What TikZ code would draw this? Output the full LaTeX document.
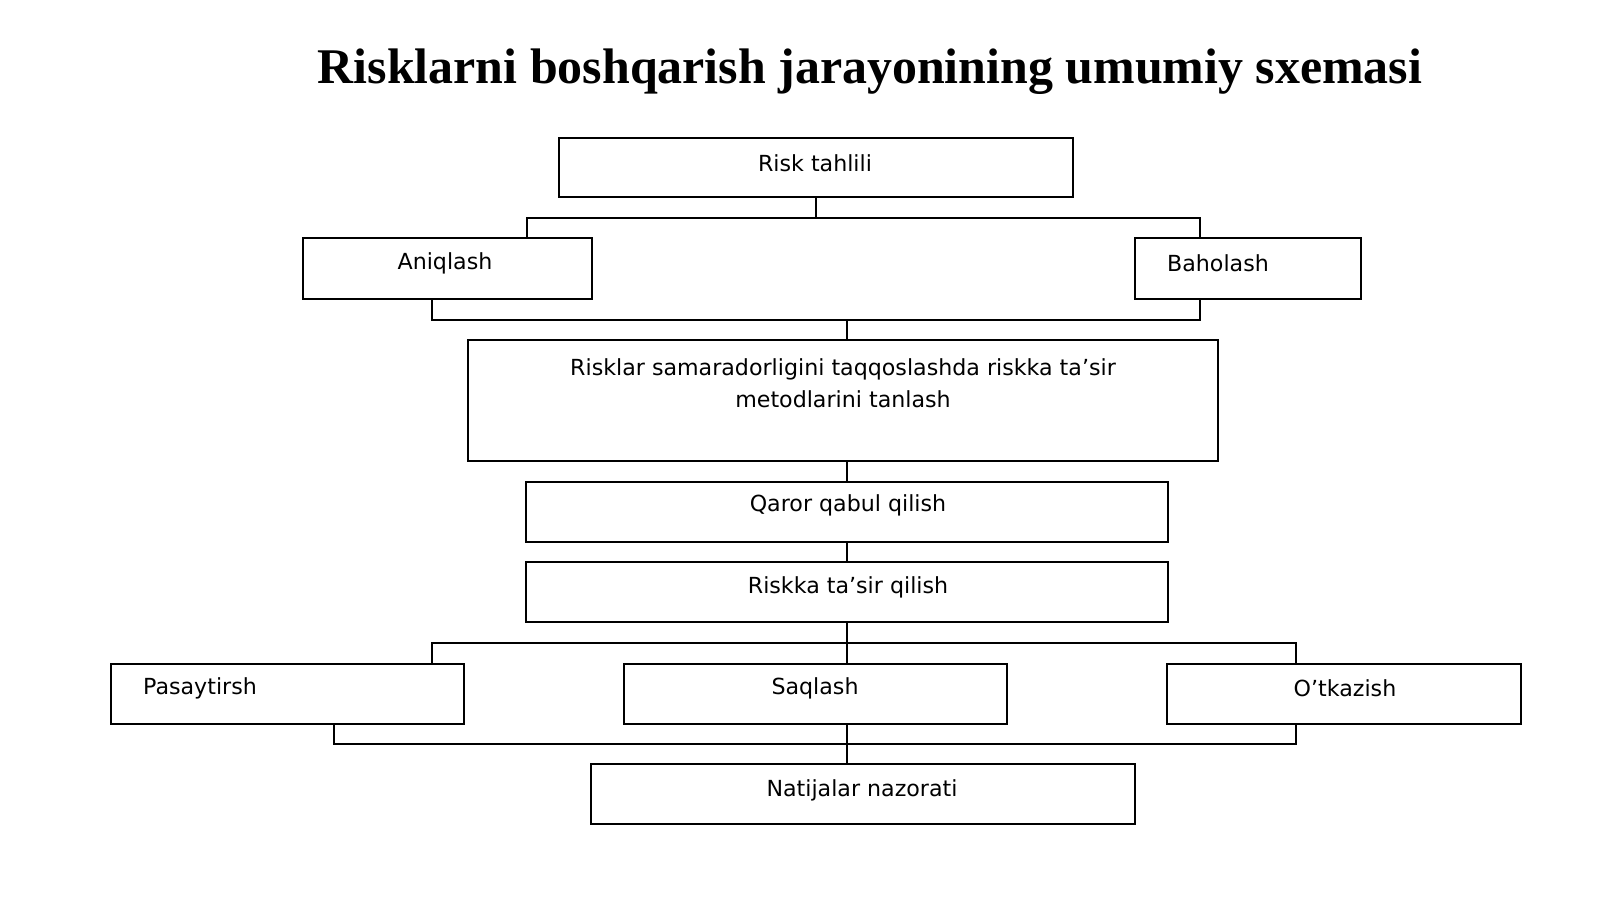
\documentclass[tikz,border=0pt]{standalone}
\usepackage{fontspec}
\setmainfont{Liberation Serif}
\newfontfamily\boxfont{DejaVu Sans}
\usetikzlibrary{positioning}
\tikzset{
  box/.style={rectangle, draw=black, line width=0.7pt, inner sep=0pt},
  lbl/.style={font=\boxfont\fontsize{6.3}{9}\selectfont, anchor=center, align=center, inner sep=0pt},
  con/.style={draw=black, line width=0.7pt}
}
\begin{document}
\begin{tikzpicture}[x=0.01cm, y=-0.01cm]
  \useasboundingbox (0,0) rectangle (1600,899);
  \node[font=\bfseries\fontsize{14.2}{17}\selectfont] (title) at (870,72) {Risklarni boshqarish jarayonining umumiy sxemasi};

  % boxes
  \node[box, minimum width=5.14cm, minimum height=0.59cm] (rt) at (816,167.5) {};
  \node[box, minimum width=2.89cm, minimum height=0.61cm] (an) at (447.5,268.5) {};
  \node[box, minimum width=2.26cm, minimum height=0.61cm] (ba) at (1248,268.5) {};
  \node[box, minimum width=7.50cm, minimum height=1.21cm] (mt) at (843,400.5) {};
  \node[box, minimum width=6.42cm, minimum height=0.60cm] (qq) at (847,512) {};
  \node[box, minimum width=6.42cm, minimum height=0.60cm] (rq) at (847,592) {};
  \node[box, minimum width=3.53cm, minimum height=0.60cm] (pa) at (287.5,694) {};
  \node[box, minimum width=3.83cm, minimum height=0.60cm] (sa) at (815.5,694) {};
  \node[box, minimum width=3.54cm, minimum height=0.60cm] (ot) at (1344,694) {};
  \node[box, minimum width=5.44cm, minimum height=0.60cm] (nn) at (863,794) {};

  % labels
  \node[lbl] (rtl) at (815,163) {Risk tahlili};
  \node[lbl] (anl) at (445,263) {Aniqlash};
  \node[lbl] (bal) at (1218,263) {Baholash};
  \node[lbl] (mtl) at (843,383) {Risklar samaradorligini taqqoslashda riskka ta’sir\\metodlarini tanlash};
  \node[lbl] (qql) at (848,505) {Qaror qabul qilish};
  \node[lbl] (rql) at (848,587) {Riskka ta’sir qilish};
  \node[lbl] (pal) at (200,688) {Pasaytirsh};
  \node[lbl] (sal) at (815,688) {Saqlash};
  \node[lbl] (otl) at (1345,688) {O’tkazish};
  \node[lbl] (nnl) at (862,790) {Natijalar nazorati};

  % junctions
  \coordinate (j1a) at (527,218);
  \coordinate (j1b) at (1200,218);
  \coordinate (j2a) at (432,320);
  \coordinate (j2b) at (1200,320);
  \coordinate (j3a) at (432,643);
  \coordinate (j3b) at (1296,643);
  \coordinate (j4a) at (334,744);
  \coordinate (j4b) at (1296,744);

  % connectors
  \draw[con] (rt.south) -- (rt.south |- j1a);
  \draw[con] (an.north -| j1a) |- (j1b) -- (ba.north -| j1b);
  \draw[con] (an.south -| j2a) |- (j2b) -- (ba.south -| j2b);
  \draw[con] (mt.north -| qq.north) -- (qq.north |- j2a);
  \draw[con] (qq.north) -- (qq.north |- mt.south);
  \draw[con] (rq.north) -- (qq.south);
  \draw[con] (rq.south) -- (rq.south |- j3a);
  \draw[con] (pa.north -| j3a) |- (j3b) -- (ot.north -| j3b);
  \draw[con] (rq.south |- j3a) -- (sa.north -| rq.south);
  \draw[con] (pa.south -| j4a) |- (j4b) -- (ot.south -| j4b);
  \draw[con] (sa.south -| rq.south) -- (nn.north -| rq.south);
\end{tikzpicture}
\end{document}
